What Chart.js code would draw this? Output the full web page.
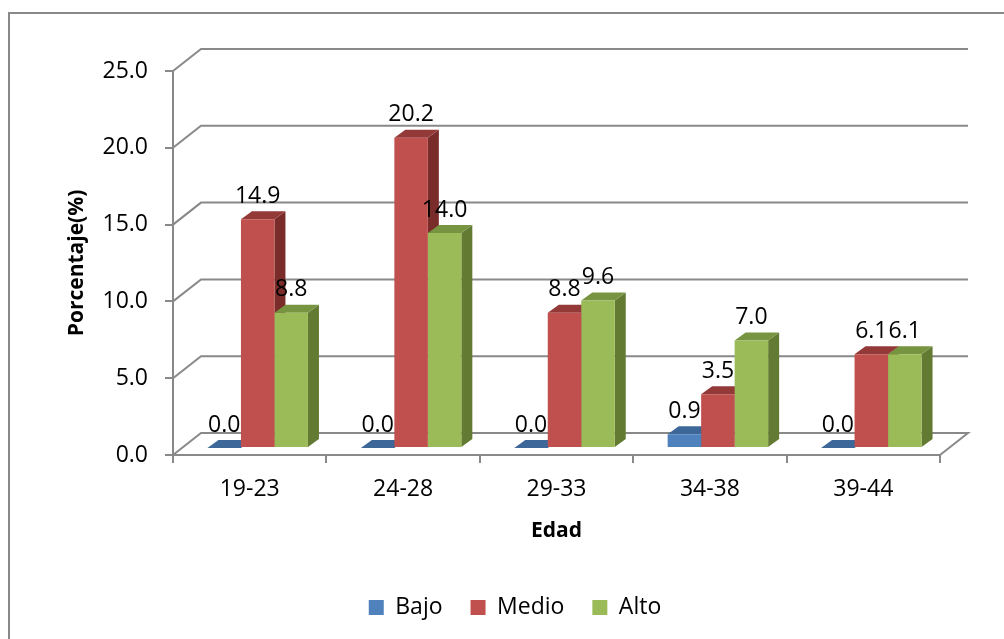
<!DOCTYPE html>
<html>
<head>
<meta charset="utf-8">
<script src="https://cdn.jsdelivr.net/npm/chart.js@4.4.0/dist/chart.umd.min.js"></script>
<style>
  html, body { margin: 0; padding: 0; background: #fff; overflow: hidden; }
  #wrap { position: relative; width: 1004px; height: 639px; }
</style>
</head>
<body>
<div id="wrap"><canvas id="edadChart" width="1004" height="639"></canvas></div>
<script>
var edades = ["19-23", "24-28", "29-33", "34-38", "39-44"];
var bajo = [0.0, 0.0, 0.0, 0.9, 0.0];
var medio = [14.9, 20.2, 8.8, 3.5, 6.1];
var alto = [8.8, 14.0, 9.6, 7.0, 6.1];
var yTicks = [0, 5, 10, 15, 20, 25];

// front, top and side colours for each series
var frente = ["#4F81BD", "#C0504D", "#9BBB59"];
var tapa = ["#3D6799", "#933937", "#779440"];
var lado = ["#2F5280", "#7A2C2A", "#637A33"];

var GRIS = "#898989";
var FONDO = { x: 28, y: 22 };   // depth of the box walls
var BARRA = { x: 8, y: 7 };     // bars sit a little inside the box
var PROF = { x: 11, y: 8 };     // depth of each bar

function poligono(ctx, pts, color) {
  ctx.beginPath();
  ctx.moveTo(pts[0][0], pts[0][1]);
  for (var i = 1; i < pts.length; i++) ctx.lineTo(pts[i][0], pts[i][1]);
  ctx.closePath();
  ctx.fillStyle = color;
  ctx.fill();
}

var caja3d = {
  id: "caja3d",
  afterLayout: function (chart) {
    // centre the legend under the plot box rather than the canvas
    chart.legend.left += 15;
    chart.legend.right += 15;
  },
  beforeDraw: function (chart) {
    var ctx = chart.ctx;
    ctx.save();
    ctx.strokeStyle = GRIS;
    ctx.lineWidth = 2;
    ctx.strokeRect(9, 13, 1100, 700);
    ctx.restore();
  },
  beforeDatasetsDraw: function (chart) {
    var ctx = chart.ctx;
    var a = chart.chartArea;
    var ys = chart.scales.y;
    ctx.save();
    ctx.strokeStyle = GRIS;
    ctx.lineWidth = 2;
    ctx.lineJoin = "miter";
    // side wall diagonals and back wall gridlines
    yTicks.forEach(function (v) {
      var py = ys.getPixelForValue(v);
      ctx.beginPath();
      ctx.moveTo(a.left, py);
      ctx.lineTo(a.left + FONDO.x, py - FONDO.y);
      ctx.lineTo(a.right + FONDO.x, py - FONDO.y);
      if (v === 0) ctx.lineTo(a.right, py);
      ctx.stroke();
    });
    ctx.restore();

    // side and top faces of the bars
    ctx.save();
    ctx.translate(BARRA.x, -BARRA.y);
    for (var j = 0; j < edades.length; j++) {
      for (var d = 0; d < chart.data.datasets.length; d++) {
        var bar = chart.getDatasetMeta(d).data[j];
        var p = bar.getProps(["x", "y", "base", "width"], true);
        var l = p.x - p.width / 2, r = p.x + p.width / 2;
        var top = Math.min(p.y, p.base), base = Math.max(p.y, p.base);
        poligono(ctx, [[r, top], [r + PROF.x, top - PROF.y], [r + PROF.x, base - PROF.y], [r, base]], lado[d]);
        poligono(ctx, [[l, top], [r, top], [r + PROF.x, top - PROF.y], [l + PROF.x, top - PROF.y]], tapa[d]);
      }
    }
    // the front faces are drawn by Chart.js inside this translation
  },
  afterDatasetsDraw: function (chart) {
    var ctx = chart.ctx;
    ctx.font = "23px 'Open Sans'";
    ctx.fillStyle = "#000";
    ctx.textAlign = "center";
    ctx.textBaseline = "middle";
    chart.data.datasets.forEach(function (ds, d) {
      chart.getDatasetMeta(d).data.forEach(function (bar, j) {
        var p = bar.getProps(["x", "y", "base"], true);
        ctx.fillText(ds.data[j].toFixed(1), p.x, Math.min(p.y, p.base) - 23);
      });
    });
    ctx.restore();
  }
};

var ctxEdad = document.getElementById("edadChart").getContext("2d");
var edadChart = new Chart(ctxEdad, {
  type: "bar",
  data: {
    labels: edades,
    datasets: [
      { label: "Bajo", data: bajo, backgroundColor: frente[0] },
      { label: "Medio", data: medio, backgroundColor: frente[1] },
      { label: "Alto", data: alto, backgroundColor: frente[2] }
    ]
  },
  options: {
    responsive: false,
    animation: false,
    devicePixelRatio: 1,
    categoryPercentage: 0.655,
    barPercentage: 1.0,
    datasets: { bar: { clip: false } },
    layout: { padding: { left: 60, right: 64, top: 71, bottom: 10 } },
    plugins: {
      tooltip: { enabled: false },
      legend: {
        position: "bottom",
        labels: {
          boxWidth: 15,
          boxHeight: 15,
          padding: 28,
          color: "#000",
          font: { family: "'Open Sans'", size: 23 }
        }
      }
    },
    scales: {
      x: {
        afterFit: function (s) { s.height = 113; },
        grid: { display: true, drawOnChartArea: false, offset: true, tickLength: 8, color: GRIS, lineWidth: 2 },
        border: { display: true, color: GRIS, width: 2 },
        ticks: { color: "#000", padding: 13, font: { family: "'Open Sans'", size: 23 } },
        title: { display: true, text: "Edad", color: "#000", padding: 24, font: { family: "'Open Sans'", size: 21, weight: "bold" } }
      },
      y: {
        min: 0,
        max: 25,
        afterFit: function (s) { s.width = 113; },
        afterBuildTicks: function (s) { s.ticks = yTicks.map(function (v) { return { value: v }; }); },
        grid: { display: true, drawOnChartArea: false, tickLength: 8, color: GRIS, lineWidth: 2 },
        border: { display: true, color: GRIS, width: 2 },
        ticks: {
          color: "#000",
          padding: 17,
          font: { family: "'Open Sans'", size: 23 },
          callback: function (v) { return Number(v).toFixed(1); }
        },
        title: { display: true, text: "Porcentaje(%)", color: "#000", padding: 4, font: { family: "'Open Sans'", size: 21, weight: "bold" } }
      }
    }
  },
  plugins: [caja3d]
});
</script>
</body>
</html>
